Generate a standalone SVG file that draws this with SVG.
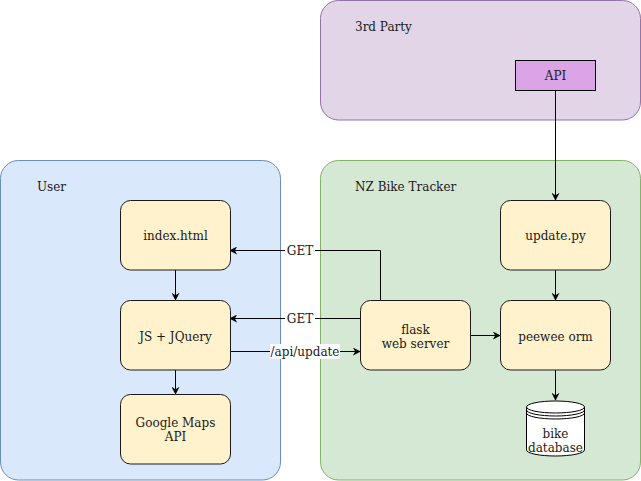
<svg xmlns="http://www.w3.org/2000/svg" width="641" height="481" viewBox="0 0 641 481">
<defs>
<style>
text{font-family:"DejaVu Serif",serif;font-size:12px;fill:#1a1a1a;text-anchor:middle}
.lbl{text-anchor:start}
.node{fill:#fff2cc;stroke:#1a1a1a;stroke-width:1}
.edge{fill:none;stroke:#000;stroke-width:1}
</style>
<marker id="ah" viewBox="0 0 10 10" refX="9" refY="5" markerWidth="8" markerHeight="8" markerUnits="userSpaceOnUse" orient="auto">
<path d="M0,0 L10,5 L0,10 L3,5 Z" fill="#000"/>
</marker>
</defs>
<rect width="641" height="481" fill="#fff"/>
<g id="group-3rd-party">
<rect x="320.5" y="0.5" width="320" height="119.5" rx="18" fill="#e1d5e7" stroke="#9673a6"/>
<text class="lbl" x="355" y="31">3rd Party</text>
</g>
<g id="group-user">
<rect x="0.5" y="160.5" width="280" height="319.5" rx="18" fill="#dae8fc" stroke="#6c8ebf"/>
<text class="lbl" x="37" y="191">User</text>
</g>
<g id="group-nz">
<rect x="320.5" y="160.5" width="320" height="319.5" rx="18" fill="#d5e8d4" stroke="#82b366"/>
<text class="lbl" x="355" y="191">NZ Bike Tracker</text>
</g>
<g id="connectors">
<line class="edge" x1="555.5" y1="90" x2="555.5" y2="200" marker-end="url(#ah)"/>
<line class="edge" x1="555.5" y1="270" x2="555.5" y2="300" marker-end="url(#ah)"/>
<line class="edge" x1="555.5" y1="370" x2="555.5" y2="400" marker-end="url(#ah)"/>
<line class="edge" x1="470" y1="335.5" x2="500" y2="335.5" marker-end="url(#ah)"/>
<line class="edge" x1="175.5" y1="270" x2="175.5" y2="300" marker-end="url(#ah)"/>
<line class="edge" x1="175.5" y1="370" x2="175.5" y2="394" marker-end="url(#ah)"/>
<polyline class="edge" points="380.5,300 380.5,250.5 230,250.5" marker-end="url(#ah)"/>
<line class="edge" x1="360" y1="318.5" x2="230" y2="318.5" marker-end="url(#ah)"/>
<line class="edge" x1="230" y1="351.5" x2="360" y2="351.5" marker-end="url(#ah)"/>
<rect x="285" y="243" width="30" height="15" fill="#fff"/>
<text x="300" y="255">GET</text>
<rect x="285" y="311" width="30" height="15" fill="#fff"/>
<text x="300" y="323">GET</text>
<rect x="270" y="344" width="70" height="15" fill="#fff"/>
<text x="305" y="356">/api/update</text>
</g>
<g id="node-api">
<rect x="515.5" y="60.5" width="80" height="30" fill="#dba4e6" stroke="#000"/>
<text x="555.5" y="80">API</text>
</g>
<g id="node-index">
<rect class="node" x="120.5" y="200.5" width="110" height="69.5" rx="10"/>
<text x="175.5" y="240">index.html</text>
</g>
<g id="node-js">
<rect class="node" x="120.5" y="300.5" width="110" height="69.5" rx="10"/>
<text x="175.5" y="341">JS + JQuery</text>
</g>
<g id="node-gmaps">
<rect class="node" x="120.5" y="394.5" width="110" height="69.5" rx="10"/>
<text x="175.5" y="427">Google Maps</text>
<text x="175.5" y="441">API</text>
</g>
<g id="node-flask">
<rect class="node" x="360.5" y="300.5" width="110" height="69.5" rx="10"/>
<text x="415.5" y="334">flask</text>
<text x="415.5" y="348">web server</text>
</g>
<g id="node-update">
<rect class="node" x="500.5" y="200.5" width="110" height="69.5" rx="10"/>
<text x="555.5" y="240">update.py</text>
</g>
<g id="node-peewee">
<rect class="node" x="500.5" y="300.5" width="110" height="69.5" rx="10"/>
<text x="555.5" y="341">peewee orm</text>
</g>
<g id="node-db">
<path d="M526.5,407 A29,6 0 0 1 584.5,407 L584.5,450 A29,6 0 0 1 526.5,450 Z" fill="#fff" stroke="#000"/>
<path d="M526.5,407 A29,6 0 0 0 584.5,407 M526.5,410 A29,6 0 0 0 584.5,410 M526.5,413 A29,6 0 0 0 584.5,413" fill="none" stroke="#000"/>
<text x="555.5" y="438">bike</text>
<text x="555.5" y="452">database</text>
</g>
</svg>
